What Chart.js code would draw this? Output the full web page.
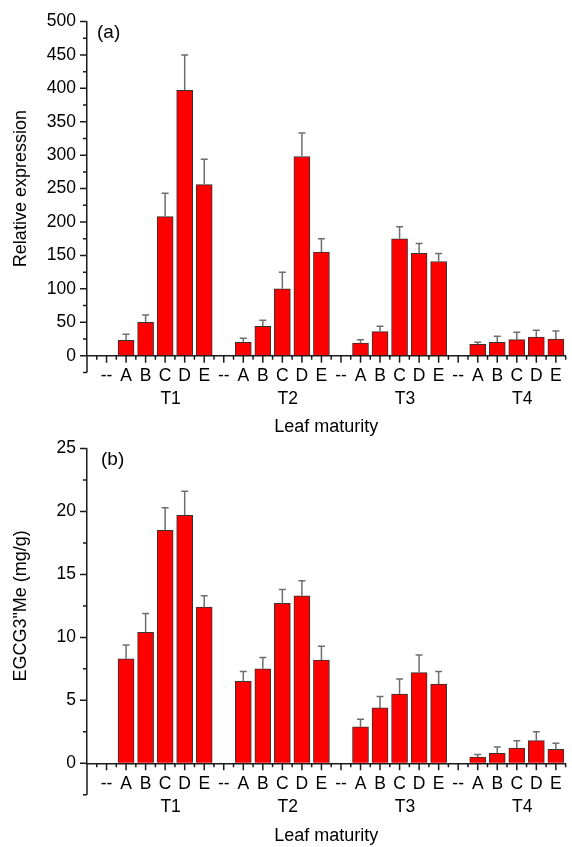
<!DOCTYPE html>
<html>
<head>
<meta charset="utf-8">
<script src="https://cdn.jsdelivr.net/npm/chart.js@4.4.0/dist/chart.umd.min.js"></script>
<style>
  html, body { margin: 0; padding: 0; background: #fff; }
  #wrap { position: relative; width: 572px; height: 847px; }
  canvas { position: absolute; left: 0; }
  #chartA { top: 0; }
  #chartB { top: 427px; }
</style>
</head>
<body>
<div id="wrap">
  <canvas id="chartA" width="572" height="445"></canvas>
  <canvas id="chartB" width="572" height="420"></canvas>
</div>
<script>
// categories: every group is "--" (no sample) then A..E
const levels = ['--', 'A', 'B', 'C', 'D', 'E'];
const groups = ['T1', 'T2', 'T3', 'T4'];
const groupCenter = 3.28; // group name sits a bit right of "C"

// (a) relative expression, mean and upper error
const exprMean = [null, 23, 50, 208, 397, 256,  null, 20, 44, 100, 298, 155,  null, 19, 36, 175, 153, 141,  null, 17, 20, 24, 28, 25];
const exprErr  = [null,  9, 11,  35,  53,  38,  null,  6,  9,  25,  35,  20,  null,  5,  8,  18,  15,  12,  null,  3,  9, 11, 10, 12];

// (b) EGCG3"Me content, mean and upper error
const egcgMean = [null, 8.3, 10.4, 18.5, 19.7, 12.4,  null, 6.5, 7.5, 12.7, 13.3, 8.2,  null, 2.9, 4.4, 5.5, 7.2, 6.3,  null, 0.5, 0.8, 1.2, 1.8, 1.1];
const egcgErr  = [null, 1.1,  1.5,  1.8,  1.9,  0.9,  null, 0.8, 0.9,  1.1,  1.2, 1.1,  null, 0.6, 0.9, 1.2, 1.4, 1.0,  null, 0.2, 0.5, 0.6, 0.7, 0.5];

const FONT = '"Liberation Sans", Arial, sans-serif';
const AXIS_COLOR = '#1a1a1a';
Chart.defaults.font.family = FONT;
Chart.defaults.color = '#000';

// upward-only error bars with a small cap
const errorBars = {
  id: 'errorBars',
  afterDatasetsDraw(chart) {
    const { ctx } = chart;
    const ys = chart.scales.y;
    chart.data.datasets.forEach((ds, di) => {
      const meta = chart.getDatasetMeta(di);
      meta.data.forEach((bar, i) => {
        const pt = ds.data[i];
        const err = ds.errs[pt.x];
        if (!err) return;
        const yTop = ys.getPixelForValue(pt.y + err);
        ctx.save();
        ctx.strokeStyle = '#6e6e6e';
        ctx.lineWidth = 1.5;
        ctx.beginPath();
        ctx.moveTo(bar.x, bar.y);
        ctx.lineTo(bar.x, yTop);
        ctx.moveTo(bar.x - 3.5, yTop);
        ctx.lineTo(bar.x + 3.5, yTop);
        ctx.stroke();
        ctx.restore();
      });
    });
  }
};

// tick marks (major/minor), y axis stub below zero, panel tag
const axisDecor = {
  id: 'axisDecor',
  afterDraw(chart, args, opts) {
    const { ctx, chartArea } = chart;
    const xs = chart.scales.x, ys = chart.scales.y;
    const y0 = ys.getPixelForValue(0);
    const yLow = ys.getPixelForValue(opts.yLow);
    ctx.save();
    ctx.strokeStyle = AXIS_COLOR;
    ctx.lineWidth = 1.5;
    ctx.beginPath();
    ctx.moveTo(chartArea.left, y0);
    ctx.lineTo(chartArea.left, yLow);
    const n = Math.round((ys.max - opts.yLow) / opts.yMinor);
    for (let k = 0; k <= n; k++) {
      const v = opts.yLow + k * opts.yMinor;
      const major = Math.abs(v / opts.yMajor - Math.round(v / opts.yMajor)) < 1e-6;
      const py = ys.getPixelForValue(v);
      ctx.moveTo(chartArea.left, py);
      ctx.lineTo(chartArea.left - (major ? 7 : 4), py);
    }
    const m = Math.round((xs.max - xs.min) / 0.5);
    for (let k = 1; k <= m; k++) {
      const v = xs.min + k * 0.5;
      const major = Number.isInteger(v);
      const px = xs.getPixelForValue(v);
      ctx.moveTo(px, y0);
      ctx.lineTo(px, y0 + (major ? 7 : 4));
    }
    ctx.stroke();
    ctx.fillStyle = '#000';
    ctx.font = '19px ' + FONT;
    ctx.textBaseline = 'top';
    ctx.fillText(opts.tag, chartArea.left + opts.tagDx, chartArea.top + opts.tagDy);
    ctx.restore();
  }
};

function makeChart(id, cfg) {
  const points = [];
  cfg.means.forEach((v, i) => { if (v !== null) points.push({ x: i, y: v }); });

  return new Chart(document.getElementById(id), {
    type: 'bar',
    data: {
      datasets: [{
        data: points,
        errs: cfg.errs,
        backgroundColor: '#ff0000',
        borderColor: '#333333',
        borderWidth: 1,
        barThickness: 16
      }]
    },
    options: {
      responsive: false,
      animation: false,
      layout: { padding: { top: cfg.padTop, bottom: cfg.padBottom, left: 0, right: 0 } },
      plugins: {
        legend: { display: false },
        tooltip: { enabled: false },
        axisDecor: { yLow: cfg.yLow, yMinor: cfg.yMinor, yMajor: cfg.yMajor, tag: cfg.tag, tagDx: cfg.tagDx, tagDy: cfg.tagDy }
      },
      scales: {
        x: {
          type: 'linear', min: -1, max: 23.5, offset: false,
          afterFit: s => { s.height = cfg.xBox; },
          grid: { display: true, drawOnChartArea: false, drawTicks: false, offset: false },
          border: { display: true, color: AXIS_COLOR, width: 1.5 },
          ticks: {
            stepSize: 1, includeBounds: false, autoSkip: false, maxRotation: 0, minRotation: 0, padding: 10.3,
            font: { size: 17.5 }, color: '#000',
            callback: v => (Number.isInteger(v) && v >= 0 && v < 24) ? levels[v % 6] : ''
          }
        },
        x2: {
          type: 'linear', position: 'bottom', min: -1, max: 23.5, offset: false,
          afterFit: s => { s.height = cfg.x2Box; },
          grid: { display: false, drawTicks: false },
          border: { display: false },
          afterBuildTicks: s => { s.ticks = groups.map((g, k) => ({ value: k * 6 + groupCenter })); },
          ticks: { autoSkip: false, maxRotation: 0, minRotation: 0, padding: 2.2, font: { size: 17.5 }, color: '#000',
            callback: (v, i) => groups[i] },
          title: { display: true, text: 'Leaf maturity', font: { size: 18 }, color: '#000',
            padding: { top: 0, bottom: 0 } }
        },
        y: {
          min: 0, max: cfg.yMax,
          afterFit: s => { s.width = 87; },
          grid: { display: true, drawOnChartArea: false, drawTicks: false },
          border: { display: true, color: AXIS_COLOR, width: 1.5 },
          ticks: {
            stepSize: cfg.yMinor, autoSkip: false, padding: 11, font: { size: 17.5 }, color: '#000',
            callback: v => Math.abs(v / cfg.yMajor - Math.round(v / cfg.yMajor)) < 1e-6 ? v : ''
          },
          title: { display: true, text: cfg.yTitle, font: { size: 18 }, color: '#000', padding: { top: 10, bottom: 0 } }
        }
      }
    },
    plugins: [errorBars, axisDecor]
  });
}

makeChart('chartA', {
  means: exprMean, errs: exprErr,
  yMax: 500, yMinor: 25, yMajor: 50, yLow: -25,
  yTitle: 'Relative expression',
  tag: '(a)', tagDx: 10, tagDy: 2,
  padTop: 20, padBottom: 7.2, xBox: 31.2, x2Box: 50.9
});

makeChart('chartB', {
  means: egcgMean, errs: egcgErr,
  yMax: 25, yMinor: 2.5, yMajor: 5, yLow: -2.5,
  yTitle: 'EGCG3"Me (mg/g)',
  tag: '(b)', tagDx: 14, tagDy: 2,
  padTop: 20.7, padBottom: 0, xBox: 31.4, x2Box: 52.3
});
</script>
</body>
</html>
